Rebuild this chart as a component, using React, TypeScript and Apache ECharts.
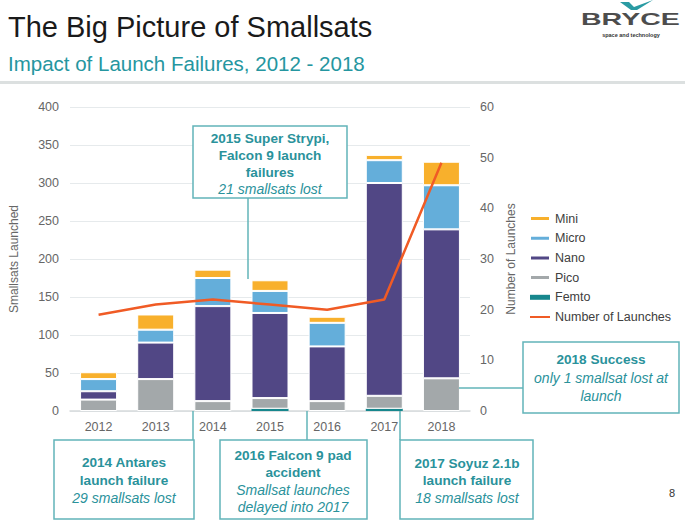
import React, { useEffect, useRef } from "react";
import * as echarts from "echarts";

const years = ["2012", "2013", "2014", "2015", "2016", "2017", "2018"];
const femto = [0, 0, 0, 3, 0, 3, 0];
const pico = [15, 42, 13, 14, 13, 17, 43];
const nano = [11, 48, 125, 112, 72, 280, 196];
const micro = [16, 17, 37, 29, 31, 30, 58];
const mini = [9, 20, 11, 14, 8, 7, 31];
const launches = [19, 21, 22, 21, 20, 22, 49];

const leftTicks = { min: 0, max: 400, interval: 50 };
const rightTicks = { min: 0, max: 60, interval: 10 };

const FONT = "'Liberation Sans', Arial, sans-serif";
const TEAL_TEXT = "#2A929B";
const TEAL_LINE = "#62B4B9";

const colors = {
  Mini: "#F8B02C",
  Micro: "#64AEDA",
  Nano: "#514785",
  Pico: "#A3A8AA",
  Femto: "#17878D",
  Launches: "#F05B25",
};

function t(x: number, y: number, text: string, size: number, fill: string, extra: any = {}) {
  return {
    type: "text",
    x,
    y,
    z: 100,
    style: {
      text,
      fill,
      fontSize: size,
      fontFamily: FONT,
      fontWeight: extra.bold ? "bold" : "normal",
      fontStyle: extra.italic ? "italic" : "normal",
      align: extra.align || "center",
      verticalAlign: "middle",
    },
    scaleX: extra.scaleX || 1,
  };
}

function box(x: number, y: number, w: number, h: number) {
  return {
    type: "rect",
    z: 90,
    shape: { x, y, width: w, height: h },
    style: { fill: "#ffffff", stroke: TEAL_LINE, lineWidth: 1.5 },
  };
}

function conn(x1: number, y1: number, x2: number, y2: number) {
  return {
    type: "line",
    z: 89,
    shape: { x1, y1, x2, y2 },
    style: { stroke: TEAL_LINE, lineWidth: 1.5 },
  };
}

function annotation(cx: number, lines: { s: string; y: number; i?: boolean }[]) {
  return lines.map((l) => t(cx, l.y, l.s, l.i ? 14 : 13.6, TEAL_TEXT, { bold: !l.i, italic: !!l.i }));
}

export default function App() {
  const ref = useRef<HTMLDivElement>(null);

  useEffect(() => {
    if (!ref.current) return;
    const chart = echarts.init(ref.current, undefined, { renderer: "svg" });

    const barSeries = (name: string, data: number[], color: string, bw = 1) => ({
      name,
      type: "bar",
      stack: "sats",
      data,
      barWidth: 37,
      itemStyle: { color, borderColor: "#ffffff", borderWidth: bw },
    });

    const graphic: any[] = [
      // titles
      t(8, 27, "The Big Picture of Smallsats", 29, "#1a1a1a", { align: "left" }),
      t(8, 63, "Impact of Launch Failures, 2012 - 2018", 20.5, "#2596A0", { align: "left" }),
      {
        type: "rect",
        z: 1,
        shape: { x: 0, y: 81, width: 685, height: 3 },
        style: { fill: "#DCE0E0" },
      },
      // logo
      {
        type: "polygon",
        z: 100,
        shape: {
          points: [
            [620, 2],
            [629, 2],
            [634, 7],
            [653, 0],
            [637, 10],
            [631, 10],
          ],
        },
        style: { fill: "#2A9BA3" },
      },
      t(581, 19.5, "BRYCE", 17, "#4D4D4D", { align: "left", bold: true, scaleX: 1.68 }),
      t(631, 35, "space and technology", 5.5, "#333333", { bold: true }),
      // page number
      t(672, 493, "8", 11, "#333333"),

      // 2015 box
      conn(248, 198, 248, 279),
      box(193, 126, 154, 72),
      ...annotation(270, [
        { s: "2015 Super Strypi,", y: 138 },
        { s: "Falcon 9 launch", y: 155 },
        { s: "failures", y: 172 },
        { s: "21 smallsats lost", y: 189, i: true },
      ]),

      // 2018 box
      conn(459, 388, 523, 388),
      box(523, 342, 156, 71),
      ...annotation(601, [
        { s: "2018 Success", y: 359.5 },
        { s: "only 1 smallsat lost at", y: 378, i: true },
        { s: "launch", y: 395.5, i: true },
      ]),

      // 2014 box
      conn(193, 411, 193, 440),
      box(54, 440, 140, 79),
      ...annotation(124, [
        { s: "2014 Antares", y: 462 },
        { s: "launch failure", y: 480 },
        { s: "29 smallsats lost", y: 497.5, i: true },
      ]),

      // 2016 box
      conn(307, 411, 307, 440),
      box(220, 440, 147, 79),
      ...annotation(293, [
        { s: "2016 Falcon 9 pad", y: 455 },
        { s: "accident", y: 472 },
        { s: "Smallsat launches", y: 489.5, i: true },
        { s: "delayed into 2017", y: 507, i: true },
      ]),

      // 2017 box
      conn(400, 411, 400, 440),
      box(400, 440, 133, 79),
      ...annotation(467, [
        { s: "2017 Soyuz 2.1b", y: 463 },
        { s: "launch failure", y: 480 },
        { s: "18 smallsats lost", y: 497.5, i: true },
      ]),
    ];

    const axisLabel = { color: "#666666", fontSize: 12.5, fontFamily: FONT };

    chart.setOption({
      animation: false,
      backgroundColor: "#ffffff",
      textStyle: { fontFamily: FONT },
      grid: { left: 60, right: 215, top: 107, bottom: 109, containLabel: false },
      legend: {
        orient: "vertical",
        left: 529,
        top: 212,
        padding: 0,
        itemWidth: 20,
        itemHeight: 5,
        itemGap: 6.7,
        symbolKeepAspect: true,
        textStyle: { color: "#404040", fontSize: 12.5, fontFamily: FONT },
        data: [
          { name: "Mini", icon: "rect" },
          { name: "Micro", icon: "rect" },
          { name: "Nano", icon: "rect" },
          { name: "Pico", icon: "rect" },
          { name: "Femto", icon: "rect" },
          { name: "Number of Launches", icon: "path://M0,0h40v4h-40z" },
        ],
      },
      xAxis: {
        type: "category",
        data: years,
        axisTick: { show: false },
        axisLine: { lineStyle: { color: "#D6DADC", width: 1.5 } },
        axisLabel: { ...axisLabel, margin: 9 },
      },
      yAxis: [
        {
          type: "value",
          min: leftTicks.min,
          max: leftTicks.max,
          interval: leftTicks.interval,
          name: "Smallsats Launched",
          nameLocation: "middle",
          nameGap: 50,
          nameTextStyle: { color: "#666666", fontSize: 12, fontFamily: FONT },
          axisLine: { show: false },
          axisTick: { show: false },
          axisLabel: { ...axisLabel, margin: 11 },
          splitLine: { lineStyle: { color: "#E6EAEC", width: 1.2 } },
        },
        {
          type: "value",
          min: rightTicks.min,
          max: rightTicks.max,
          interval: rightTicks.interval,
          name: "Number of Launches",
          nameLocation: "middle",
          nameGap: 25,
          nameTextStyle: { color: "#666666", fontSize: 12, fontFamily: FONT },
          axisLine: { show: false },
          axisTick: { show: false },
          axisLabel: { ...axisLabel, margin: 10 },
          splitLine: { show: false },
        },
      ],
      series: [
        barSeries("Femto", femto, colors.Femto, 0),
        barSeries("Pico", pico, colors.Pico),
        barSeries("Nano", nano, colors.Nano),
        barSeries("Micro", micro, colors.Micro),
        barSeries("Mini", mini, colors.Mini),
        {
          name: "Number of Launches",
          type: "line",
          yAxisIndex: 1,
          data: launches,
          symbol: "none",
          z: 10,
          lineStyle: { color: colors.Launches, width: 2.5 },
          itemStyle: { color: colors.Launches },
        },
      ],
      graphic,
    });

    return () => chart.dispose();
  }, []);

  return (
    <div
      ref={ref}
      style={{ position: "fixed", left: 0, top: 0, width: 685, height: 520, background: "#fff" }}
    />
  );
}
